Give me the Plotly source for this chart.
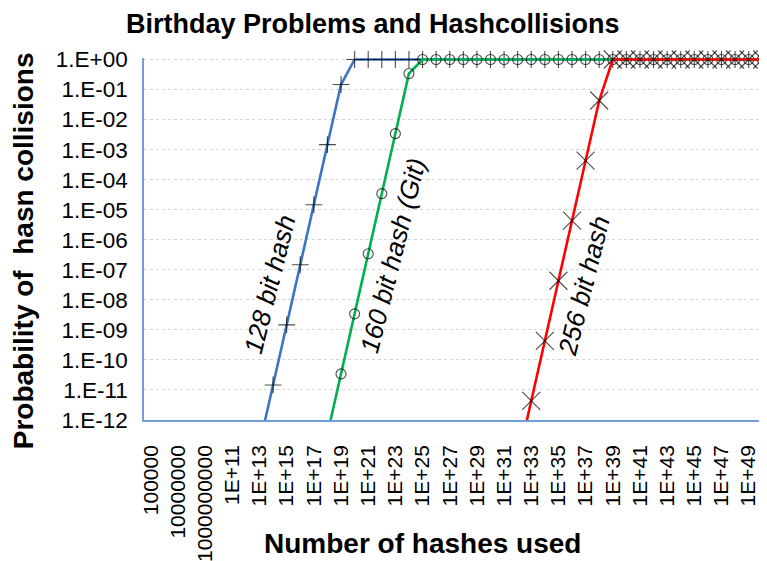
import plotly.graph_objects as go

# Categories: number of hashes used (1e5 .. 1e50)
categories = ["100000", "1000000", "10000000", "100000000", "1000000000", "10000000000"] + \
    ["1E+%d" % k for k in range(11, 51)]

# Probability of a hash collision (capped at 1)
p128 = [1.47e-29, 1.47e-27, 1.47e-25, 1.47e-23, 1.47e-21, 1.47e-19, 1.47e-17, 1.47e-15, 1.47e-13,
        1.47e-11, 1.47e-9, 1.47e-7, 1.47e-5, 1.47e-3, 0.147,
        1, 1, 1, 1, 1, 1, 1, 1, 1, 1, 1, 1, 1, 1, 1, 1, 1, 1, 1, 1, 1, 1, 1, 1, 1, 1, 1, 1, 1, 1, 1]
p160 = [3.42e-39, 3.42e-37, 3.42e-35, 3.42e-33, 3.42e-31, 3.42e-29, 3.42e-27, 3.42e-25, 3.42e-23,
        3.42e-21, 3.42e-19, 3.42e-17, 3.42e-15, 3.42e-13,
        3.42e-11, 3.42e-9, 3.42e-7, 3.42e-5, 3.42e-3, 0.342,
        1, 1, 1, 1, 1, 1, 1, 1, 1, 1, 1, 1, 1, 1, 1, 1, 1, 1, 1, 1, 1, 1, 1, 1, 1, 1]
p256 = [4.32e-68, 4.32e-66, 4.32e-64, 4.32e-62, 4.32e-60, 4.32e-58, 4.32e-56, 4.32e-54, 4.32e-52,
        4.32e-50, 4.32e-48, 4.32e-46, 4.32e-44, 4.32e-42, 4.32e-40, 4.32e-38, 4.32e-36, 4.32e-34,
        4.32e-32, 4.32e-30, 4.32e-28, 4.32e-26, 4.32e-24, 4.32e-22, 4.32e-20, 4.32e-18, 4.32e-16,
        4.32e-14, 4.32e-12, 4.32e-10, 4.32e-8, 4.32e-6, 4.32e-4, 0.0432,
        1, 1, 1, 1, 1, 1, 1, 1, 1, 1, 1, 1]

series_names = ["128 bit hash", "160 bit hash (Git)", "256 bit hash"]
series_values = [p128, p160, p256]

y_tickvals = [10 ** (-k) for k in range(0, 13)]
y_ticktext = ["1.E+00"] + ["1.E-%02d" % k for k in range(1, 13)]

FONT = "Liberation Sans, Arial, sans-serif"
colors = ["#3a76c2", "#00b050", "#ff0000"]
symbols = ["cross-thin-open", "circle-open", "x-thin-open"]
msizes = [12, 10, 18]

fig = go.Figure()
for name, vals, col, sym, ms in zip(series_names, series_values, colors, symbols, msizes):
    sizes = [ms if v >= 1e-12 else 0 for v in vals]
    fig.add_trace(go.Scatter(
        x=categories, y=vals, name=name, mode="lines+markers",
        line=dict(color=col, width=2.6),
        marker=dict(symbol=sym, size=sizes, color="black",
                    line=dict(color="black", width=1.1)),
        cliponaxis=False, showlegend=False))

# The page body has an 8px margin: work in screen pixels and shift.
OFF = 8
W, H = 767, 561
L, R, T, B = 144 - OFF, OFF, 57.5 - OFF, H - (420 - OFF)
pw, ph = W - L - R, H - T - B


def px(xs):
    return (xs - OFF - L) / pw


def py(ys):
    return (H - B - (ys - OFF)) / ph


def label(text, xs, ys, size, angle=0):
    return dict(text=text, xref="paper", yref="paper", x=px(xs), y=py(ys),
                showarrow=False, xanchor="center", yanchor="middle", textangle=angle,
                font=dict(size=size, family=FONT, color="black"))


fig.update_layout(
    width=W, height=H,
    margin=dict(l=L, r=R, t=T, b=B, pad=0, autoexpand=False),
    paper_bgcolor="white", plot_bgcolor="white",
    font=dict(family=FONT, color="black"),
    xaxis=dict(type="category", categoryorder="array", categoryarray=categories,
               range=[-0.5, 45.35], tickmode="array",
               tickvals=categories[::2], ticktext=categories[::2],
               tickangle=-90, tickfont=dict(size=21, family=FONT, color="black"),
               showgrid=False, zeroline=False, showline=True, linecolor="#6f9fd8",
               linewidth=1.5, ticks="", ticklabelstandoff=15, automargin=False),
    yaxis=dict(type="log", range=[-12, 0.05], tickmode="array",
               tickvals=y_tickvals, ticktext=y_ticktext,
               tickfont=dict(size=22.5, family=FONT, color="black"),
               showgrid=True, gridcolor="#d4d4d4", griddash="dot", gridwidth=1,
               zeroline=False, showline=True, linecolor="#6f9fd8", linewidth=1.5,
               ticks="", ticklabelstandoff=10, automargin=False),
    annotations=[
        label("<b>Birthday Problems and Hashcollisions</b>", 373, 23, 27),
        label("<b>Number of hashes used</b>", 422, 544, 28),
        label("<b>Probability of  hasn collisions</b>", 23, 251, 28, -90),
        label("<i>128 bit hash</i>", 270, 284, 26, -76),
        label("<i>160 bit hash (Git)</i>", 393, 256, 26, -76),
        label("<i>256 bit hash</i>", 584, 286, 26, -76),
    ],
)

fig.write_html("out.html")
